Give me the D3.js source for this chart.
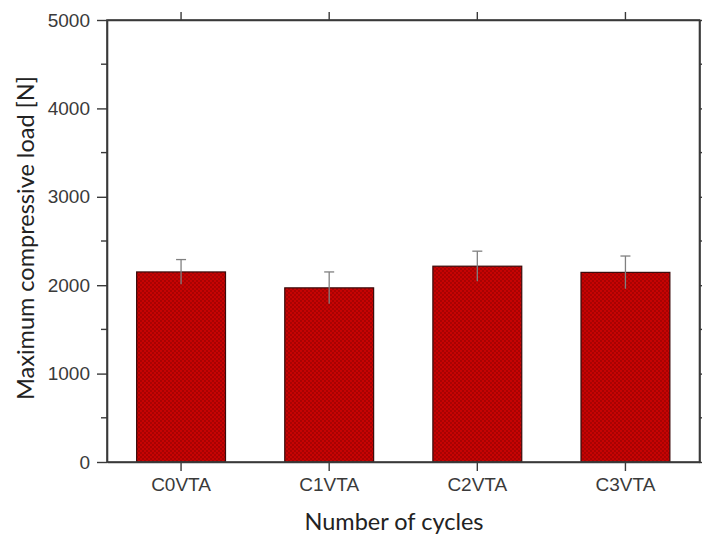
<!DOCTYPE html>
<html>
<head>
<meta charset="utf-8">
<script src="https://cdn.jsdelivr.net/npm/d3@7"></script>
<style>
  html, body { margin: 0; padding: 0; background: #fff; }
  svg { display: block; }
</style>
</head>
<body>
<svg id="chart" width="702" height="539"></svg>
<script>
// Sample groups and their mean maximum compressive load with standard deviation
const categories = ["C0VTA", "C1VTA", "C2VTA", "C3VTA"];
const meanLoad = [2150, 1970, 2215, 2145];
const stdLoad = [140, 180, 170, 185];
const yTicks = [0, 1000, 2000, 3000, 4000, 5000];
const yMinorTicks = [500, 1500, 2500, 3500, 4500];

const svg = d3.select("#chart");
const margin = { left: 107, right: 2.5, top: 20, bottom: 77 };
const W = 702, H = 539;
const x0 = margin.left, x1 = W - margin.right;
const y0 = H - margin.bottom, y1 = margin.top;

const x = d3.scaleBand().domain(categories).range([x0, x1]).paddingInner(0.4).paddingOuter(0.2);
const y = d3.scaleLinear().domain([0, 5000]).range([y0, y1]);

// crosshatch fill for bars
const defs = svg.append("defs");
const pat = defs.append("pattern").attr("id", "hatch")
  .attr("patternUnits", "userSpaceOnUse").attr("width", 4).attr("height", 4);
pat.append("rect").attr("width", 4).attr("height", 4).attr("fill", "#c60303");
pat.append("rect").attr("x", 0).attr("y", 0).attr("width", 2).attr("height", 2).attr("fill", "#a80202");
pat.append("rect").attr("x", 2).attr("y", 2).attr("width", 2).attr("height", 2).attr("fill", "#a80202");

const axisColor = "#3a3a3a";
const tickFont = "'Liberation Sans', Arial, sans-serif";
const titleFont = "Lato, 'Open Sans', sans-serif";

// bars
svg.append("g").selectAll("rect").data(categories).join("rect")
  .attr("x", d => x(d))
  .attr("y", (d, i) => y(meanLoad[i]))
  .attr("width", x.bandwidth())
  .attr("height", (d, i) => y(0) - y(meanLoad[i]))
  .attr("fill", "url(#hatch)")
  .attr("stroke", "#3b0c0c")
  .attr("stroke-width", 1.2);

// error bars
const eb = svg.append("g").attr("stroke", "#808080").attr("stroke-width", 1.3).attr("fill", "none");
categories.forEach((c, i) => {
  const cx = x(c) + x.bandwidth() / 2;
  eb.append("line").attr("x1", cx).attr("x2", cx)
    .attr("y1", y(meanLoad[i] - stdLoad[i])).attr("y2", y(meanLoad[i] + stdLoad[i]));
  eb.append("line").attr("x1", cx - 5).attr("x2", cx + 5)
    .attr("y1", y(meanLoad[i] + stdLoad[i])).attr("y2", y(meanLoad[i] + stdLoad[i]));
});

// left axis with minor ticks
const leftAxis = svg.append("g").attr("transform", `translate(${x0},0)`)
  .call(d3.axisLeft(y).tickValues(yTicks).tickFormat(d3.format("d")).tickSize(10).tickPadding(7).tickSizeOuter(0));
leftAxis.append("g").selectAll("line").data(yMinorTicks).join("line")
  .attr("x1", 0).attr("x2", -6).attr("y1", d => y(d)).attr("y2", d => y(d));

// right axis (outward ticks only)
const rightAxis = svg.append("g").attr("transform", `translate(${x1},0)`)
  .call(d3.axisRight(y).tickValues(yTicks).tickSize(10).tickFormat("").tickSizeOuter(0));
rightAxis.append("g").selectAll("line").data(yMinorTicks).join("line")
  .attr("x1", 0).attr("x2", 6).attr("y1", d => y(d)).attr("y2", d => y(d));

// bottom axis
const bottomAxis = svg.append("g").attr("transform", `translate(0,${y0})`)
  .call(d3.axisBottom(x).tickSize(9).tickPadding(7).tickSizeOuter(0));

// top axis (ticks only)
const topAxis = svg.append("g").attr("transform", `translate(0,${y1})`)
  .call(d3.axisTop(x).tickSize(8).tickFormat("").tickSizeOuter(0));

[leftAxis, rightAxis, bottomAxis, topAxis].forEach(g => {
  g.attr("font-family", tickFont).attr("font-size", 19);
  g.select(".domain").attr("stroke", axisColor).attr("stroke-width", 1.6);
  g.selectAll("line").attr("stroke", axisColor).attr("stroke-width", 1.4);
  g.selectAll("text").attr("fill", "#3a3a3a");
});

// frame
svg.append("rect").attr("x", x0).attr("y", y1).attr("width", x1 - x0).attr("height", y0 - y1)
  .attr("fill", "none").attr("stroke", axisColor).attr("stroke-width", 1.6);

// axis titles
svg.append("text")
  .attr("transform", `translate(34,238) rotate(-90)`)
  .attr("text-anchor", "middle")
  .attr("font-family", titleFont)
  .attr("font-size", 23.5).attr("fill", "#222")
  .text("Maximum compressive load [N]");

svg.append("text")
  .attr("x", 394).attr("y", 530)
  .attr("text-anchor", "middle")
  .attr("font-family", titleFont)
  .attr("font-size", 23.5).attr("fill", "#222")
  .text("Number of cycles");
</script>
</body>
</html>
